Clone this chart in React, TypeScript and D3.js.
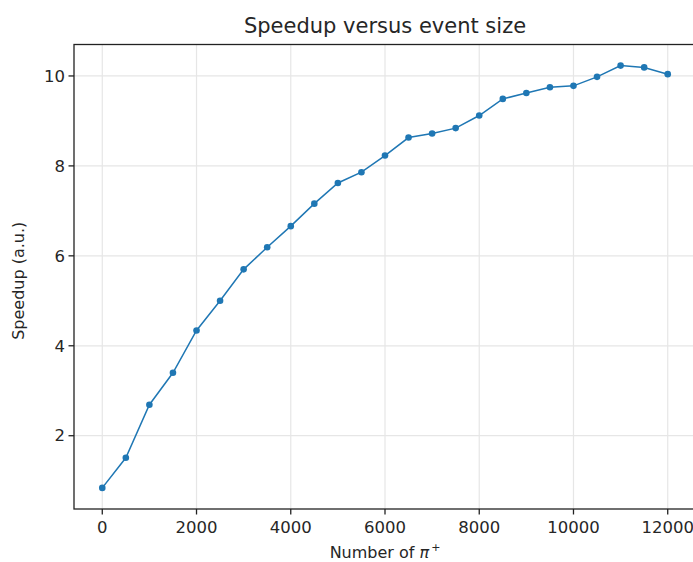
import React from "react";
import * as d3 from "d3";

const pionCounts = [0, 500, 1000, 1500, 2000, 2500, 3000, 3500, 4000, 4500, 5000, 5500, 6000, 6500, 7000, 7500, 8000, 8500, 9000, 9500, 10000, 10500, 11000, 11500, 12000];
const speedups = [0.84, 1.51, 2.69, 3.4, 4.34, 5.0, 5.7, 6.19, 6.66, 7.16, 7.62, 7.86, 8.23, 8.63, 8.72, 8.84, 9.12, 9.49, 9.62, 9.75, 9.78, 9.98, 10.23, 10.19, 10.04];
const xTicks = [0, 2000, 4000, 6000, 8000, 10000, 12000];
const yTicks = [2, 4, 6, 8, 10];

const W = 693;
const H = 562;
const left = 74;
const right = 696;
const top = 44.5;
const bottom = 509;
const font = "DejaVu Sans, sans-serif";
const blue = "#1f77b4";

export default function App() {
  const xMin = d3.min(pionCounts)!;
  const xMax = d3.max(pionCounts)!;
  const yMin = d3.min(speedups)!;
  const yMax = d3.max(speedups)!;
  const xPad = (xMax - xMin) * 0.05;
  const yPad = (yMax - yMin) * 0.05;
  const x = d3.scaleLinear().domain([xMin - xPad, xMax + xPad]).range([left, right]);
  const y = d3.scaleLinear().domain([yMin - yPad, yMax + yPad]).range([bottom, top]);
  const pts = pionCounts.map((p, i) => [p, speedups[i]] as [number, number]);
  const line = d3.line<[number, number]>().x((d) => x(d[0])).y((d) => y(d[1]));

  return (
    <svg width={W} height={H} style={{ position: "absolute", left: 0, top: 0, background: "#fff" }} fontFamily={font}>
      <rect x={0} y={0} width={W} height={H} fill="#fff" />
      {xTicks.map((t) => (
        <line key={"gx" + t} x1={x(t)} x2={x(t)} y1={top} y2={bottom} stroke="#e6e6e6" strokeWidth={1.2} />
      ))}
      {yTicks.map((t) => (
        <line key={"gy" + t} x1={left} x2={right} y1={y(t)} y2={y(t)} stroke="#e6e6e6" strokeWidth={1.2} />
      ))}
      <path d={line(pts)!} fill="none" stroke={blue} strokeWidth={1.5} />
      {pts.map((d, i) => (
        <circle key={i} cx={x(d[0])} cy={y(d[1])} r={3.3} fill={blue} />
      ))}
      <rect x={left} y={top} width={right - left} height={bottom - top} fill="none" stroke="#222" strokeWidth={1.3} />
      {xTicks.map((t) => (
        <g key={"xt" + t}>
          <line x1={x(t)} x2={x(t)} y1={bottom} y2={bottom + 5.5} stroke="#222" strokeWidth={1.3} />
          <text x={x(t)} y={bottom + 24} textAnchor="middle" fontSize={16.5} fill="#262626">
            {t}
          </text>
        </g>
      ))}
      {yTicks.map((t) => (
        <g key={"yt" + t}>
          <line x1={left} x2={left - 5.5} y1={y(t)} y2={y(t)} stroke="#222" strokeWidth={1.3} />
          <text x={left - 9} y={y(t)} dy="0.35em" textAnchor="end" fontSize={16.5} fill="#262626">
            {t}
          </text>
        </g>
      ))}
      <text x={(left + right) / 2} y={33} textAnchor="middle" fontSize={21} fill="#262626">
        Speedup versus event size
      </text>
      <text x={(left + right) / 2} y={558} textAnchor="middle" fontSize={16} fill="#262626">
        Number of <tspan fontStyle="italic">π</tspan>
        <tspan dx={2} dy={-7} fontSize={11}>+</tspan>
      </text>
      <text
        transform={`translate(24, ${(top + bottom) / 2 + 4}) rotate(-90)`}
        textAnchor="middle"
        fontSize={16}
        fill="#262626"
      >
        Speedup (a.u.)
      </text>
    </svg>
  );
}
